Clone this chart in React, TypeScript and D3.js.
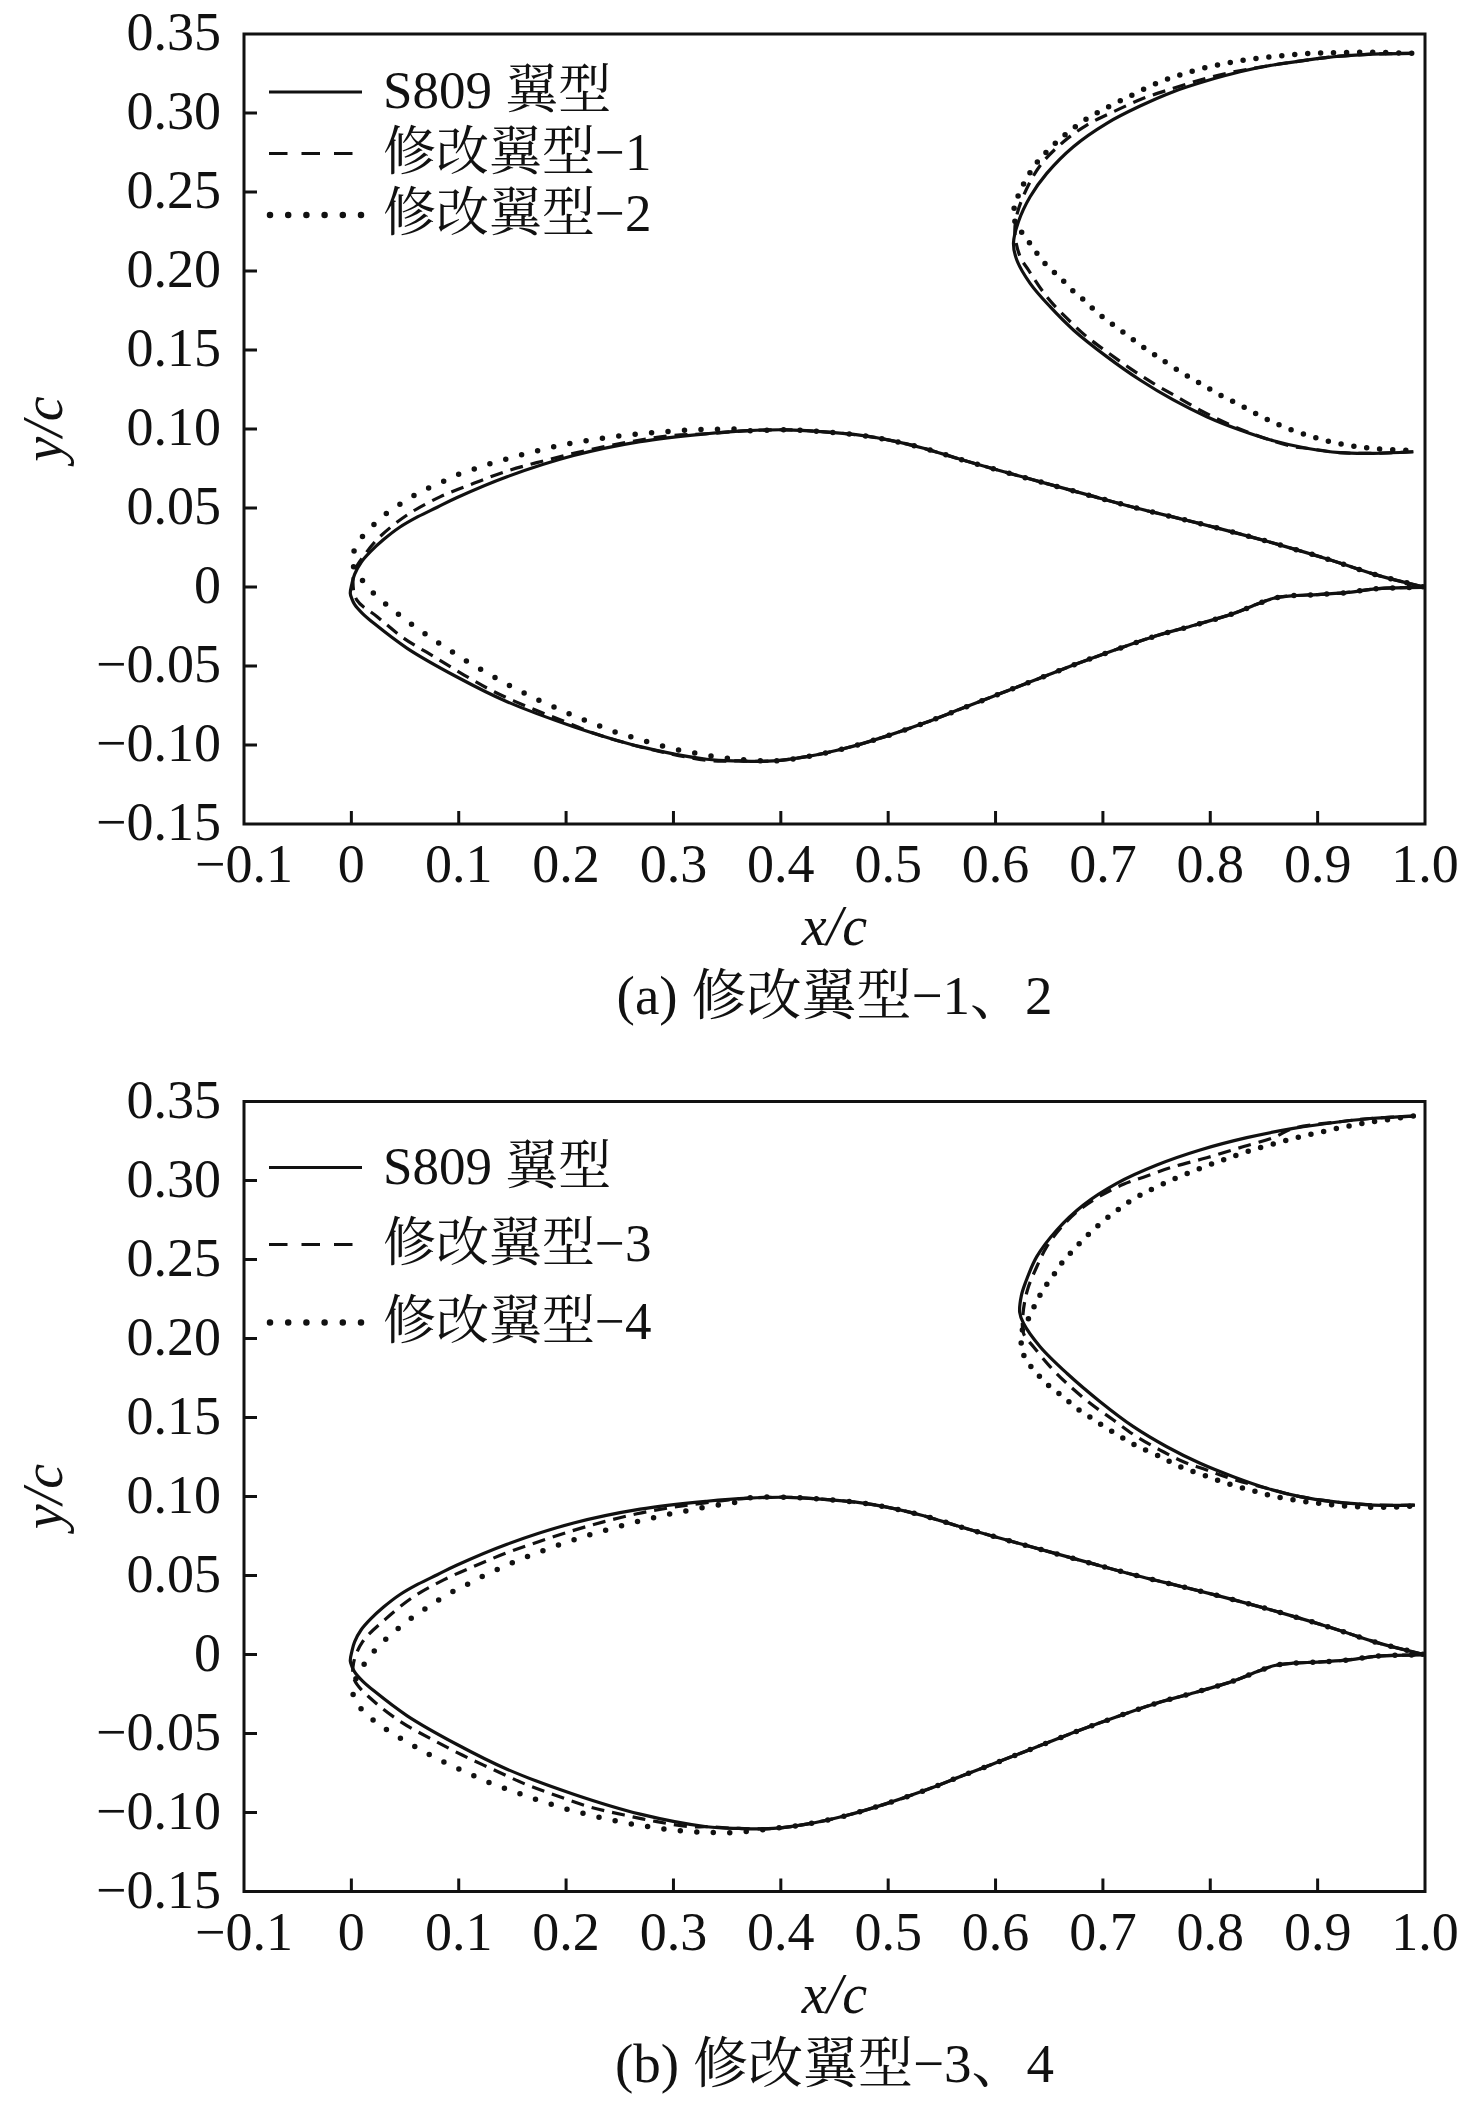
import { useRef, useEffect } from 'react';
import * as d3 from 'd3';

type Pt = [number, number];
type Style = 'solid' | 'dashed' | 'dotted';

const WIDTH = 1476;
const HEIGHT = 2104;
const FONT =
  "'Times New Roman', 'Liberation Serif', 'Noto Serif CJK SC', 'Noto Sans CJK SC', serif";

// axes
const xTicks = [-0.1, 0, 0.1, 0.2, 0.3, 0.4, 0.5, 0.6, 0.7, 0.8, 0.9, 1.0];
const xTickLabels = ['−0.1', '0', '0.1', '0.2', '0.3', '0.4', '0.5', '0.6', '0.7', '0.8', '0.9', '1.0'];
const yTicks = [0.35, 0.3, 0.25, 0.2, 0.15, 0.1, 0.05, 0, -0.05, -0.1, -0.15];
const yTickLabels = ['0.35', '0.30', '0.25', '0.20', '0.15', '0.10', '0.05', '0', '−0.05', '−0.10', '−0.15'];

// S809 contour, nose -> trailing edge
const s809Upper: Pt[] = [
  [-0.001, -0.004], [0.0005, 0.002], [0.003, 0.008], [0.009, 0.0155], [0.018, 0.0225],
  [0.030, 0.030], [0.045, 0.0378], [0.062, 0.0445], [0.080, 0.0505], [0.098, 0.0565],
  [0.145, 0.0698], [0.207, 0.0832], [0.269, 0.092], [0.331, 0.097], [0.370, 0.099],
  [0.406, 0.0995], [0.438, 0.0983], [0.470, 0.0964], [0.501, 0.093], [0.533, 0.0878],
  [0.564, 0.0815], [0.596, 0.0752], [0.641, 0.0667], [0.686, 0.0583], [0.731, 0.050],
  [0.777, 0.0424], [0.822, 0.0346], [0.867, 0.0262], [0.912, 0.0171], [0.957, 0.0072],
  [0.998, 0.0002],
];
const s809Lower: Pt[] = [
  [-0.001, -0.004], [0.0005, -0.0075], [0.003, -0.011], [0.010, -0.0165], [0.021, -0.023],
  [0.052, -0.0388], [0.098, -0.0568], [0.145, -0.0726], [0.207, -0.0884], [0.269, -0.101],
  [0.331, -0.109], [0.361, -0.1101], [0.393, -0.1101], [0.424, -0.1074], [0.460, -0.1021],
  [0.497, -0.0947], [0.533, -0.0863], [0.569, -0.0768], [0.605, -0.0673], [0.641, -0.0578],
  [0.677, -0.0483], [0.713, -0.0394], [0.749, -0.031], [0.786, -0.024], [0.822, -0.0167],
  [0.845, -0.0105], [0.860, -0.0070], [0.877, -0.0055], [0.900, -0.0048], [0.926, -0.0036],
  [0.957, -0.0010], [0.998, -0.0002],
];

// modified leading edges (rest follows S809)
const mod1Upper: Pt[] = [
  [0.0015, 0.003], [0.004, 0.0118], [0.0115, 0.0196], [0.025, 0.0308], [0.052, 0.0456],
  [0.083, 0.0572], [0.114, 0.0656], [0.145, 0.0734], [0.176, 0.0793], [0.207, 0.0846],
  [0.238, 0.0892], [0.269, 0.093], [0.300, 0.096],
];
const mod1Lower: Pt[] = [
  [0.0015, 0.003], [0.005, -0.0082], [0.024, -0.0188], [0.049, -0.0325], [0.077, -0.0441],
  [0.105, -0.0557], [0.133, -0.0663], [0.164, -0.0758], [0.195, -0.0842], [0.226, -0.0926],
  [0.257, -0.099], [0.288, -0.1042], [0.331, -0.1097],
];
const mod2Upper: Pt[] = [
  [0.001, 0.016], [0.0015, 0.0209], [0.009, 0.0308], [0.0199, 0.0388], [0.0317, 0.046],
  [0.045, 0.0523], [0.0587, 0.058], [0.073, 0.063], [0.0879, 0.0675], [0.1024, 0.072],
  [0.118, 0.0755], [0.133, 0.0789], [0.1487, 0.0818], [0.164, 0.0848], [0.18, 0.0873],
  [0.1958, 0.0899], [0.2117, 0.0918], [0.2278, 0.0935], [0.244, 0.0951], [0.26, 0.0964],
  [0.276, 0.0975], [0.292, 0.0983], [0.308, 0.0992], [0.324, 0.0996], [0.34, 0.0998],
  [0.355, 0.1],
];
const mod2Lower: Pt[] = [
  [0.001, 0.016], [0.0037, 0.0103], [0.0134, 0.0017], [0.0245, -0.0065], [0.0372, -0.0135],
  [0.0497, -0.0205], [0.0627, -0.0268], [0.076, -0.0331], [0.0897, -0.0392], [0.103, -0.0451],
  [0.117, -0.0508], [0.1313, -0.0563], [0.1453, -0.0616], [0.1598, -0.0667], [0.174, -0.0715],
  [0.1887, -0.0759], [0.2036, -0.0804], [0.2185, -0.0846], [0.2337, -0.0886], [0.2486, -0.0924],
  [0.2641, -0.0956], [0.2796, -0.0987], [0.2955, -0.1017], [0.311, -0.104], [0.3268, -0.1059],
  [0.343, -0.1078], [0.359, -0.109],
];
const mod3Upper: Pt[] = [
  [0.002, -0.0056], [0.0105, 0.0081], [0.0323, 0.0227], [0.058, 0.0366], [0.086, 0.0472],
  [0.1155, 0.0562], [0.145, 0.0644], [0.1744, 0.0714], [0.2061, 0.0784], [0.2356, 0.0841],
  [0.266, 0.0891], [0.297, 0.0929], [0.331, 0.0961],
];
const mod3Lower: Pt[] = [
  [0.002, -0.0056], [0.0028, -0.0161], [0.0214, -0.0299], [0.0472, -0.0431], [0.0751, -0.0537],
  [0.1037, -0.0638], [0.1331, -0.0731], [0.1626, -0.0822], [0.1921, -0.0896], [0.2231, -0.0967],
  [0.2542, -0.1016], [0.2846, -0.1058], [0.3156, -0.109],
];
const mod4Upper: Pt[] = [
  [0.0015, -0.023], [0.0028, -0.0178], [0.01, -0.0081], [0.0196, 0.0008], [0.0307, 0.0088],
  [0.0425, 0.0159], [0.0553, 0.0227], [0.0686, 0.0288], [0.0822, 0.0349], [0.0962, 0.0404],
  [0.1108, 0.0454], [0.1251, 0.0505], [0.14, 0.055], [0.1546, 0.0594], [0.1695, 0.0634],
  [0.185, 0.0674], [0.2002, 0.071], [0.2154, 0.0744], [0.2306, 0.0775], [0.2464, 0.0805],
  [0.2622, 0.0834], [0.2778, 0.0859], [0.2936, 0.0885], [0.3094, 0.0906], [0.3252, 0.0927],
  [0.3411, 0.0946], [0.3573, 0.0963],
];
const mod4Lower: Pt[] = [
  [0.0015, -0.023], [0.0028, -0.0284], [0.013, -0.0372], [0.0254, -0.044], [0.0388, -0.0503],
  [0.0528, -0.0558], [0.0667, -0.0611], [0.081, -0.0663], [0.0956, -0.071], [0.1102, -0.0756],
  [0.125, -0.0801], [0.1403, -0.0841], [0.1555, -0.0878], [0.1707, -0.0915], [0.1859, -0.0948],
  [0.2014, -0.098], [0.2173, -0.1008], [0.2328, -0.1033], [0.2486, -0.1056], [0.2644, -0.1077],
  [0.2806, -0.1094], [0.2964, -0.1109], [0.3125, -0.1119], [0.3287, -0.1125], [0.3445, -0.1128],
  [0.3606, -0.1125],
];

// enlarged leading-edge views, in the plot's own x/c, y/c coordinates
const insetAS809Upper: Pt[] = [
  [0.6167, 0.2175], [0.6213, 0.2312], [0.6322, 0.247], [0.6477, 0.2618], [0.6725, 0.2787],
  [0.7036, 0.2935], [0.7346, 0.3044], [0.7656, 0.3135], [0.7967, 0.3204], [0.8277, 0.3261],
  [0.8588, 0.3304], [0.8898, 0.3335], [0.9209, 0.336], [0.9519, 0.3373], [0.9891, 0.3378],
];
const insetAS809Lower: Pt[] = [
  [0.6167, 0.2175], [0.6198, 0.207], [0.6322, 0.1922], [0.6508, 0.1774], [0.6725, 0.1627],
  [0.7036, 0.1458], [0.7346, 0.131], [0.7656, 0.1184], [0.7967, 0.1078], [0.8277, 0.0994],
  [0.8588, 0.0926], [0.8898, 0.0878], [0.9209, 0.085], [0.9519, 0.0846], [0.9891, 0.0856],
];
const insetAMod1Upper: Pt[] = [
  [0.618, 0.224], [0.6204, 0.2369], [0.6307, 0.2544], [0.6431, 0.2681], [0.6633, 0.2818],
  [0.685, 0.2924], [0.7098, 0.3008], [0.7377, 0.3093], [0.7656, 0.3156], [0.7905, 0.3209],
  [0.8153, 0.3251], [0.8402, 0.3283],
];
const insetAMod1Lower: Pt[] = [
  [0.618, 0.224], [0.6229, 0.209], [0.6307, 0.2006], [0.6477, 0.1837], [0.6664, 0.1701],
  [0.685, 0.1584], [0.7036, 0.1489], [0.7253, 0.1384], [0.747, 0.1289], [0.7688, 0.1204],
  [0.7905, 0.112], [0.8122, 0.1046], [0.834, 0.0983], [0.8557, 0.093], [0.8774, 0.0888],
];
const insetAMod2Upper: Pt[] = [
  [0.6185, 0.2305], [0.6173, 0.2397], [0.6223, 0.2496], [0.6285, 0.258], [0.6353, 0.2656],
  [0.6431, 0.2723], [0.6518, 0.2783], [0.6611, 0.2842], [0.6704, 0.2892], [0.6803, 0.2943],
  [0.6906, 0.2985], [0.7005, 0.3023], [0.7114, 0.3061], [0.7216, 0.3095], [0.7501, 0.3188],
  [0.7719, 0.3241], [0.7967, 0.3289], [0.8215, 0.3323], [0.8464, 0.3348], [0.8712, 0.3365],
  [0.896, 0.3378], [0.9209, 0.3382], [0.9519, 0.3384], [0.9876, 0.3378],
];
const insetAMod2Lower: Pt[] = [
  [0.6185, 0.2305], [0.6276, 0.2217], [0.6353, 0.2144], [0.6431, 0.207], [0.6524, 0.2006],
  [0.6608, 0.1954], [0.6695, 0.189], [0.6788, 0.1837], [0.6881, 0.1778], [0.6974, 0.1722],
  [0.7067, 0.1673], [0.716, 0.1627], [0.7253, 0.158], [0.7346, 0.1532], [0.7439, 0.1489],
  [0.7533, 0.1447], [0.7719, 0.1363], [0.7905, 0.1289], [0.8091, 0.1215], [0.8277, 0.1152],
  [0.8479, 0.1078], [0.868, 0.1015], [0.8898, 0.0962], [0.9115, 0.092], [0.9333, 0.0892],
  [0.955, 0.0875], [0.9876, 0.0864],
];

const insetBS809Upper: Pt[] = [
  [0.6225, 0.2165], [0.624, 0.227], [0.6276, 0.2349], [0.6384, 0.2518], [0.6571, 0.2687],
  [0.6818, 0.2845], [0.7129, 0.2982], [0.7502, 0.3098], [0.7905, 0.3193], [0.834, 0.3271],
  [0.8774, 0.333], [0.9209, 0.3372], [0.9519, 0.3394], [0.9907, 0.3408],
];
const insetBS809Lower: Pt[] = [
  [0.6225, 0.2165], [0.626, 0.2096], [0.6415, 0.1948], [0.6664, 0.178], [0.6974, 0.16],
  [0.7284, 0.1442], [0.7595, 0.1315], [0.7905, 0.121], [0.8215, 0.1125], [0.8526, 0.1052],
  [0.8836, 0.0999], [0.9146, 0.0967], [0.9519, 0.0946], [0.9907, 0.0946],
];
const insetBMod3Upper: Pt[] = [
  [0.6255, 0.215], [0.6297, 0.2307], [0.6384, 0.2454], [0.6477, 0.2581], [0.6617, 0.2708],
  [0.6788, 0.2818], [0.6974, 0.2902], [0.7191, 0.2976], [0.7409, 0.3028], [0.7656, 0.3087],
  [0.7967, 0.3144], [0.8277, 0.3208], [0.8588, 0.3272],
];
const insetBMod3Lower: Pt[] = [
  [0.6255, 0.215], [0.626, 0.2033], [0.6353, 0.1948], [0.6508, 0.1822], [0.6664, 0.1716],
  [0.6881, 0.159], [0.7098, 0.1484], [0.7316, 0.1378], [0.7533, 0.1294], [0.775, 0.122],
  [0.7967, 0.1168], [0.8184, 0.1115],
];
const insetBMod4Upper: Pt[] = [
  [0.626, 0.2075], [0.63, 0.2117], [0.6359, 0.2201], [0.6415, 0.2275], [0.6483, 0.2349],
  [0.6555, 0.2416], [0.6626, 0.2486], [0.6701, 0.2543], [0.6781, 0.2602], [0.6859, 0.2655],
  [0.6943, 0.2708], [0.7036, 0.2761], [0.7129, 0.2809], [0.7222, 0.2856], [0.7331, 0.2902],
  [0.744, 0.294], [0.7656, 0.3008], [0.7905, 0.3077], [0.8122, 0.313], [0.834, 0.3182],
  [0.8588, 0.3231], [0.8836, 0.3277], [0.9085, 0.3315], [0.9333, 0.3351], [0.9581, 0.3378],
  [0.9891, 0.3408],
];
const insetBMod4Lower: Pt[] = [
  [0.626, 0.2075], [0.6245, 0.2033], [0.6245, 0.1927], [0.6307, 0.1843], [0.6384, 0.178],
  [0.6471, 0.1716], [0.6571, 0.1663], [0.6664, 0.1611], [0.6757, 0.1558], [0.685, 0.1516],
  [0.6943, 0.1473], [0.7036, 0.1432], [0.7144, 0.1389], [0.7238, 0.1347], [0.7346, 0.1311],
  [0.7533, 0.1252], [0.7719, 0.1189], [0.7936, 0.1136], [0.8153, 0.1084], [0.8371, 0.1041],
  [0.8588, 0.1003], [0.8836, 0.0973], [0.9085, 0.0951], [0.9364, 0.0935], [0.9643, 0.0932],
  [0.9907, 0.094],
];

const legendA = ['S809 翼型', '修改翼型−1', '修改翼型−2'];
const legendB = ['S809 翼型', '修改翼型−3', '修改翼型−4'];
const captionA = '(a) 修改翼型−1、2';
const captionB = '(b) 修改翼型−3、4';

// the modified shapes rejoin the base curve downstream
function withTail(front: Pt[], base: Pt[]): Pt[] {
  const lastX = front[front.length - 1][0];
  return [...front, ...base.filter((p) => p[0] > lastX + 0.01)];
}

// one path: trailing edge -> upper -> nose -> lower -> trailing edge
function contour(upper: Pt[], lower: Pt[]): Pt[] {
  return [...upper.slice().reverse(), ...lower.slice(1)];
}

type Curve = { pts: Pt[]; style: Style; inset?: boolean };

type Panel = {
  top: number;
  legendRows: number[];
  legend: string[];
  caption: string;
  curves: Curve[];
};

const panels: Panel[] = [
  {
    top: 34,
    legendRows: [58, 119.5, 181],
    legend: legendA,
    caption: captionA,
    curves: [
      { pts: contour(s809Upper, s809Lower), style: 'solid' },
      { pts: contour(insetAS809Upper, insetAS809Lower), style: 'solid', inset: true },
      { pts: contour(withTail(mod1Upper, s809Upper), withTail(mod1Lower, s809Lower)), style: 'dashed' },
      {
        pts: contour(withTail(insetAMod1Upper, insetAS809Upper), withTail(insetAMod1Lower, insetAS809Lower)),
        style: 'dashed',
        inset: true,
      },
      { pts: contour(withTail(mod2Upper, s809Upper), withTail(mod2Lower, s809Lower)), style: 'dotted' },
      { pts: contour(insetAMod2Upper, insetAMod2Lower), style: 'dotted', inset: true },
    ],
  },
  {
    top: 1101.5,
    legendRows: [66, 143, 221],
    legend: legendB,
    caption: captionB,
    curves: [
      { pts: contour(s809Upper, s809Lower), style: 'solid' },
      { pts: contour(insetBS809Upper, insetBS809Lower), style: 'solid', inset: true },
      { pts: contour(withTail(mod3Upper, s809Upper), withTail(mod3Lower, s809Lower)), style: 'dashed' },
      {
        pts: contour(withTail(insetBMod3Upper, insetBS809Upper), withTail(insetBMod3Lower, insetBS809Lower)),
        style: 'dashed',
        inset: true,
      },
      { pts: contour(withTail(mod4Upper, s809Upper), withTail(mod4Lower, s809Lower)), style: 'dotted' },
      { pts: contour(insetBMod4Upper, insetBMod4Lower), style: 'dotted', inset: true },
    ],
  },
];

const PLOT_LEFT = 244;
const PLOT_RIGHT = 1425;
const PLOT_H = 790;
const INK = '#111';

function styleLine(
  sel: d3.Selection<SVGPathElement, unknown, null, undefined>,
  style: Style,
  inset: boolean,
) {
  sel.attr('fill', 'none').attr('stroke', INK);
  if (style === 'solid') {
    sel.attr('stroke-width', 3.2);
  } else if (style === 'dashed') {
    sel.attr('stroke-width', 3.2).attr('stroke-dasharray', '13 8');
  } else {
    sel
      .attr('stroke-width', 5.5)
      .attr('stroke-linecap', 'round')
      .attr('stroke-dasharray', inset ? '0 13' : '0 16.5');
  }
}

export default function App() {
  const svgRef = useRef<SVGSVGElement>(null);

  useEffect(() => {
    const svg = d3.select(svgRef.current);
    svg.selectAll('*').remove();

    svg.append('rect').attr('width', WIDTH).attr('height', HEIGHT).attr('fill', '#fff');

    panels.forEach((p) => {
      const bottom = p.top + PLOT_H;
      const x = d3.scaleLinear().domain([-0.1, 1.0]).range([PLOT_LEFT, PLOT_RIGHT]);
      const y = d3.scaleLinear().domain([-0.15, 0.35]).range([bottom, p.top]);
      const g = svg.append('g');

      const line = d3
        .line<Pt>()
        .x((d) => x(d[0]))
        .y((d) => y(d[1]))
        .curve(d3.curveCatmullRom.alpha(0.5));

      p.curves.forEach((c) => {
        const path = g.append('path').attr('d', line(c.pts));
        styleLine(path, c.style, !!c.inset);
      });

      // frame
      g.append('rect')
        .attr('x', x(-0.1))
        .attr('y', y(0.35))
        .attr('width', x(1.0) - x(-0.1))
        .attr('height', y(-0.15) - y(0.35))
        .attr('fill', 'none')
        .attr('stroke', INK)
        .attr('stroke-width', 3);

      // inward ticks
      xTicks.slice(1, -1).forEach((v) => {
        g.append('line')
          .attr('x1', x(v))
          .attr('x2', x(v))
          .attr('y1', bottom)
          .attr('y2', bottom - 13)
          .attr('stroke', INK)
          .attr('stroke-width', 3);
      });
      yTicks.slice(1, -1).forEach((v) => {
        g.append('line')
          .attr('x1', PLOT_LEFT)
          .attr('x2', PLOT_LEFT + 13)
          .attr('y1', y(v))
          .attr('y2', y(v))
          .attr('stroke', INK)
          .attr('stroke-width', 3);
      });

      // tick labels
      xTicks.forEach((v, i) => {
        g.append('text')
          .attr('x', x(v))
          .attr('y', bottom + 58)
          .attr('text-anchor', 'middle')
          .attr('font-family', FONT)
          .attr('font-size', 54)
          .attr('fill', INK)
          .text(xTickLabels[i]);
      });
      yTicks.forEach((v, i) => {
        g.append('text')
          .attr('x', 221)
          .attr('y', y(v) + 16)
          .attr('text-anchor', 'end')
          .attr('font-family', FONT)
          .attr('font-size', 54)
          .attr('fill', INK)
          .text(yTickLabels[i]);
      });

      // axis titles
      g.append('text')
        .attr('x', (PLOT_LEFT + PLOT_RIGHT) / 2)
        .attr('y', bottom + 121)
        .attr('text-anchor', 'middle')
        .attr('font-family', FONT)
        .attr('font-style', 'italic')
        .attr('font-size', 56)
        .attr('fill', INK)
        .text('x/c');
      g.append('text')
        .attr('transform', `translate(62,${(p.top + bottom) / 2}) rotate(-90)`)
        .attr('text-anchor', 'middle')
        .attr('font-family', FONT)
        .attr('font-style', 'italic')
        .attr('font-size', 56)
        .attr('fill', INK)
        .text('y/c');

      // caption
      g.append('text')
        .attr('x', (PLOT_LEFT + PLOT_RIGHT) / 2)
        .attr('y', bottom + 190)
        .attr('text-anchor', 'middle')
        .attr('font-family', FONT)
        .attr('font-size', 55)
        .attr('fill', INK)
        .text(p.caption);

      // legend
      const styles: Style[] = ['solid', 'dashed', 'dotted'];
      p.legendRows.forEach((off, i) => {
        const ly = p.top + off;
        const seg = g
          .append('path')
          .attr('d', `M269,${ly}H362`)
          .attr('fill', 'none')
          .attr('stroke', INK);
        if (styles[i] === 'solid') seg.attr('stroke-width', 3.2);
        if (styles[i] === 'dashed') seg.attr('stroke-width', 3.2).attr('stroke-dasharray', '18.5 14');
        if (styles[i] === 'dotted')
          seg
            .attr('d', `M270,${ly}H362`)
            .attr('stroke-width', 6.5)
            .attr('stroke-linecap', 'round')
            .attr('stroke-dasharray', '0 18.2');
        g.append('text')
          .attr('x', 383)
          .attr('y', ly + 16)
          .attr('font-family', FONT)
          .attr('font-size', 53)
          .attr('fill', INK)
          .text(p.legend[i]);
      });
    });
  }, []);

  return (
    <>
      <style>{'body{margin:0}'}</style>
      <svg ref={svgRef} width={WIDTH} height={HEIGHT} style={{ display: 'block' }} />
    </>
  );
}
